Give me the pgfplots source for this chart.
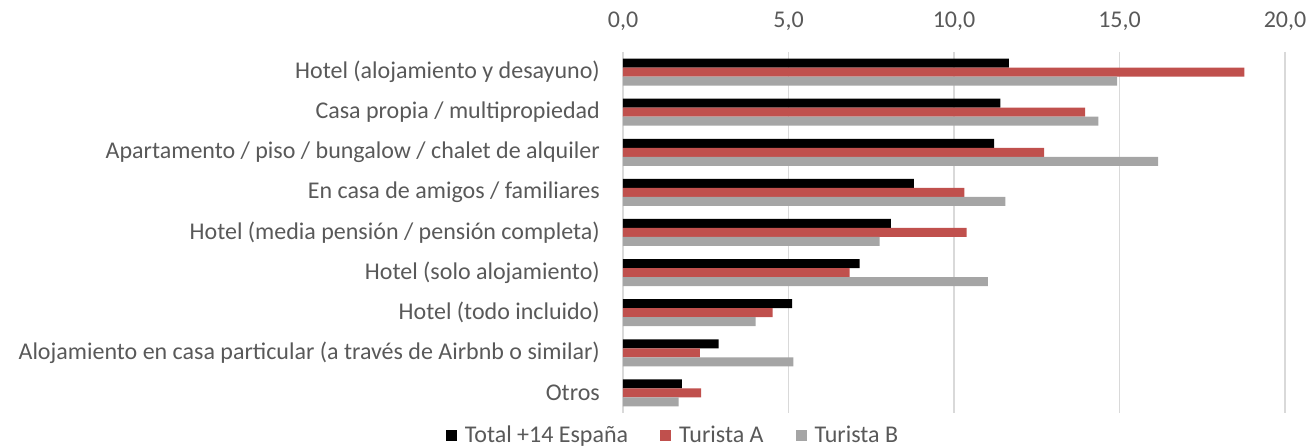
\documentclass[border=0pt]{standalone}
\usepackage{pgfplots}
\pgfplotsset{compat=1.18}
\usepackage{fontspec}
\setmainfont{Carlito}
\definecolor{txt}{HTML}{595959}
\definecolor{gridc}{HTML}{D9D9D9}
\definecolor{cA}{HTML}{C0504D}
\definecolor{cB}{HTML}{A5A5A5}
\begin{document}
\begin{tikzpicture}
\begin{axis}[
  scale only axis, width=662pt, height=361pt,
  xbar, bar width=9pt,
  xmin=0, xmax=20, xtick={0,5,10,15,20},
  ymin=-0.5, ymax=8.5, y dir=reverse,
  ytick={0,1,2,3,4,5,6,7,8},
  yticklabels={Hotel (alojamiento y desayuno),Casa propia / multipropiedad,Apartamento / piso / bungalow / chalet de alquiler,En casa de amigos / familiares,Hotel (media pensión / pensión completa),Hotel (solo alojamiento),Hotel (todo incluido),Alojamiento en casa particular (a través de Airbnb o similar),Otros},
  xticklabel pos=upper,
  axis line style={draw=none},
  major tick length=0pt,
  xmajorgrids, grid style={gridc, line width=1.2pt},
  tick label style={font=\fontsize{24}{28}\selectfont, text=txt, inner sep=0pt},
  yticklabel style={anchor=east, xshift=-23pt},
  xticklabel style={anchor=south, yshift=21pt},
  x tick label style={/pgf/number format/.cd, fixed, fixed zerofill, precision=1, use comma, assume math mode=true},
  legend style={at={(0.0755,-0.061)}, anchor=center, draw=none, legend columns=3,
    font=\fontsize{24}{28}\selectfont, text=txt, inner sep=0pt,
    /tikz/every odd column/.append style={column sep=6pt},
    /tikz/every even column/.append style={column sep=30pt}},
  legend image code/.code={\fill[#1] (0pt,-5.5pt) rectangle (11pt,5.5pt);},
]
\addplot[fill=black, draw=none, bar shift=9pt] coordinates {
(11.66,0) (11.40,1) (11.21,2) (8.79,3) (8.09,4) (7.15,5) (5.11,6) (2.89,7) (1.78,8)};
\addplot[fill=cA, draw=none, bar shift=0pt] coordinates {
(18.77,0) (13.96,1) (12.72,2) (10.31,3) (10.38,4) (6.85,5) (4.52,6) (2.32,7) (2.36,8)};
\addplot[fill=cB, draw=none, bar shift=-9pt] coordinates {
(14.93,0) (14.36,1) (16.17,2) (11.55,3) (7.75,4) (11.02,5) (4.01,6) (5.15,7) (1.68,8)};
\legend{Total +14 España, Turista A, Turista B}
\end{axis}
\path ([shift={(-623pt,52pt)}]current axis.north west) rectangle ([shift={(24pt,-33pt)}]current axis.south east);
\end{tikzpicture}
\end{document}
